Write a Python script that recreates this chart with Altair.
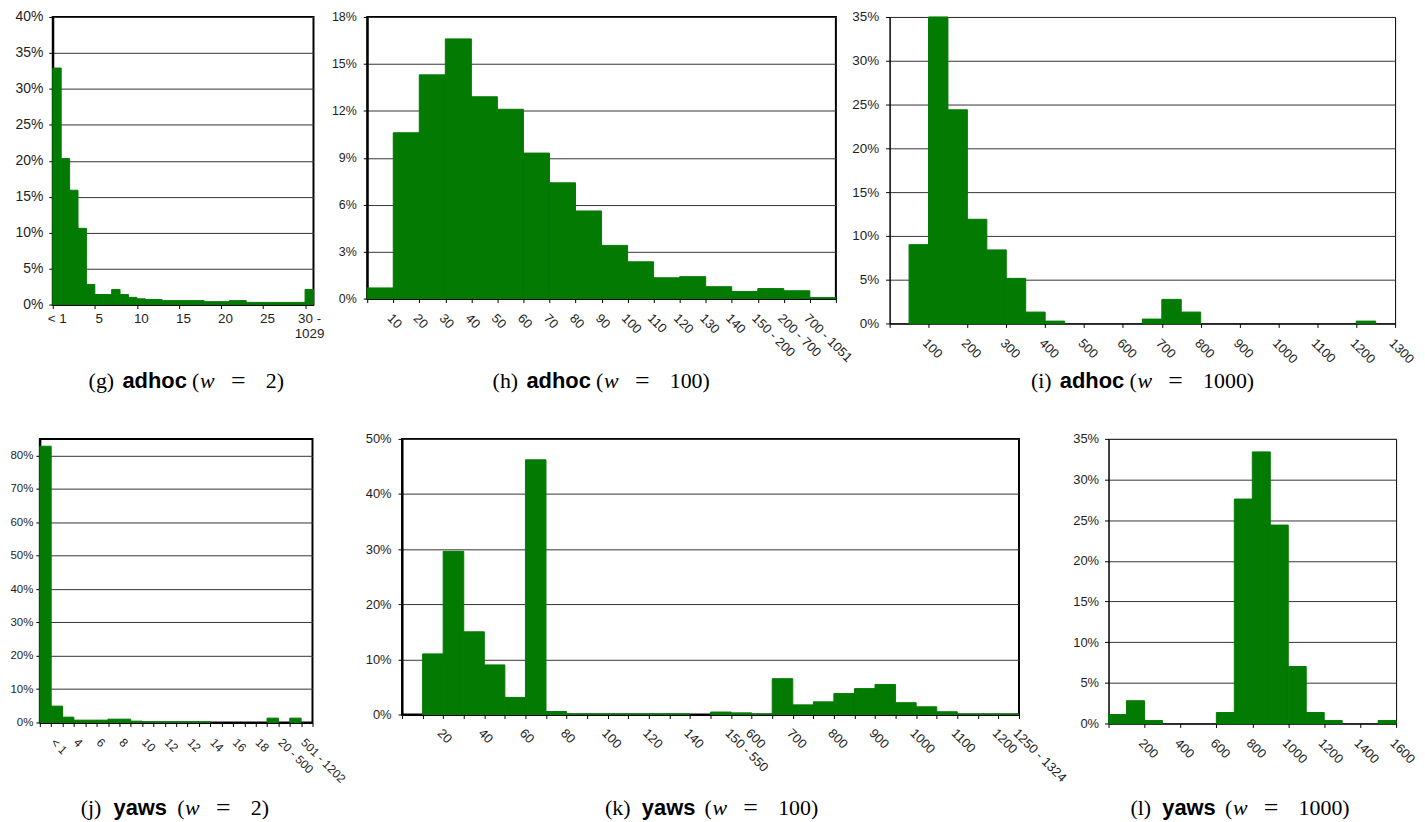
import json
import altair as alt
import pandas as pd

GREEN = "#037b03"
INK = "#1e1e1e"
SANS = "Liberation Sans"
SERIF = "Liberation Serif"

# ---------------- data ----------------
# (g) adhoc, w = 2 : 31 bins, tick labels every 5 bins
g_pct = [32.9, 20.3, 15.9, 10.6, 2.8, 1.4, 1.4, 2.1, 1.4, 1.0, 0.8, 0.7, 0.7,
         0.55, 0.55, 0.55, 0.55, 0.55, 0.4, 0.4, 0.4, 0.55, 0.55,
         0.3, 0.3, 0.3, 0.3, 0.3, 0.3, 0.3, 2.1]
g_tick_pos = [0, 5, 10, 15, 20, 25, 30]
g_tick_text = ["< 1", "5", "10", "15", "20", "25", "30 -|1029"]

# (h) adhoc, w = 100 : 18 bins
h_pct = [0.68, 10.6, 14.3, 16.6, 12.9, 12.1, 9.3, 7.4, 5.6, 3.4, 2.35, 1.33,
         1.4, 0.76, 0.45, 0.64, 0.5, 0.06]
h_tick_text = ["", "10", "20", "30", "40", "50", "60", "70", "80", "90", "100",
               "110", "120", "130", "140", "150 - 200", "200 - 700", "700 - 1051", ""]

# (i) adhoc, w = 1000 : bins of 50
i_bin_start = [50, 100, 150, 200, 250, 300, 350, 400, 650, 700, 750, 1200]
i_pct = [9.0, 35.0, 24.4, 11.9, 8.4, 5.15, 1.3, 0.27, 0.5, 2.75, 1.3, 0.27]
i_bin_width = 50

# (j) yaws, w = 2 : 24 bins
j_pct = [82.8, 4.9, 1.6, 0.7, 0.7, 0.7, 1.0, 1.0, 0.4, 0.2, 0.2, 0.2, 0.2,
         0.2, 0.2, 0, 0, 0, 0, 0, 1.3, 0, 1.3, 0]
j_tick_text = ["", "< 1", "", "4", "", "6", "", "8", "", "10", "", "12", "",
               "12", "", "14", "", "16", "", "18", "", "20 - 500", "", "501 - 1202", ""]

# (k) yaws, w = 100 : 30 bins
k_pct = [0, 11.0, 29.6, 15.0, 9.0, 3.1, 46.2, 0.55, 0.12, 0.12, 0.12, 0.12,
         0.12, 0.12, 0, 0.45, 0.3, 0.1, 6.5, 1.75, 2.3, 3.8, 4.7, 5.45, 2.15,
         1.4, 0.5, 0.1, 0.1, 0.1]
k_tick_text = ["", "", "20", "", "40", "", "60", "", "80", "", "100", "", "120",
               "", "140", "", "150 - 550", "600", "", "700", "", "800", "", "900",
               "", "1000", "", "1100", "", "1200", "1250 - 1324"]

# (l) yaws, w = 1000 : bins of 100
l_bin_start = [0, 100, 200, 600, 700, 800, 900, 1000, 1100, 1200, 1500]
l_pct = [1.1, 2.8, 0.37, 1.35, 27.6, 33.4, 24.4, 7.0, 1.35, 0.37, 0.37]
l_bin_width = 100

# captions
cap_tag = ["(g)", "(h)", "(i)", "(j)", "(k)", "(l)"]
cap_name = ["adhoc", "adhoc", "adhoc", "yaws", "yaws", "yaws"]
cap_w = ["2", "100", "1000", "2", "100", "1000"]

# ---------------- layout (pixels) ----------------
LEFTS = [52, 368, 893, 39, 403, 1113]
CAP_X = [(88, 122, 192), (494, 528, 598), (1035, 1064, 1134),
         (80, 113, 177), (607, 644, 707), (1135, 1167, 1230)]
CAP_Y = [366, 366, 366, 371, 371, 371]


def index_df(pct):
    df = pd.DataFrame({"pct": pct})
    df["x0"] = df.index
    df["x1"] = df.index + 1
    return df


def value_df(starts, pct, width):
    df = pd.DataFrame({"x0": starts, "pct": pct})
    df["x1"] = df["x0"] + width
    return df


def y_axis(values, fs, pad, thick):
    return alt.Axis(values=values, labelExpr="datum.value + '%'", title=None,
                    grid=True, gridColor="#333", gridWidth=1, tickSize=4,
                    tickColor="#000", labelPadding=pad, labelFont=SANS,
                    labelFontSize=fs, labelColor=INK, domainColor="#000",
                    domainWidth=2 if thick else 1, labelOverlap=False)


def x_axis(values, expr, fs, pad, rotated=True, dx=0, thick=True):
    kw = dict(values=values, labelExpr=expr, title=None, grid=False, tickSize=4,
              tickColor="#000", labelPadding=pad, labelFont=SANS, labelFontSize=fs,
              labelColor=INK, domainColor="#000", domainWidth=2 if thick else 1,
              labelOverlap=False, labelFlush=False, labelBound=False)
    if rotated:
        kw.update(labelAngle=45, labelAlign="left", labelBaseline="top")
    if dx:
        kw.update(labelOffset=dx)
    return alt.Axis(**kw)


def caption_layers(idx):
    left = LEFTS[idx]
    xt, xn, xp = CAP_X[idx]
    y = CAP_Y[idx]
    pieces = [
        (cap_tag[idx], xt, SERIF, "normal", "normal", 22),
        (cap_name[idx], xn, SANS, "bold", "normal", 22),
        ("(", xp, SERIF, "normal", "normal", 22),
        ("w", xp + 8, SERIF, "normal", "italic", 22),
        ("=", xp + 39, SERIF, "normal", "normal", 26),
        (cap_w[idx] + ")", xp + 74, SERIF, "normal", "normal", 22),
    ]
    layers = []
    for text, x, font, weight, style, fs in pieces:
        layers.append(
            alt.Chart(pd.DataFrame({"t": [text]})).mark_text(
                align="left", baseline="middle", font=font, fontSize=fs,
                fontWeight=weight, fontStyle=style, color="#000"
            ).encode(text="t:N", x=alt.value(x - left), y=alt.value(y))
        )
    return layers


def panel(idx, df, xdom, xaxis, ydom, yaxis, w, h, thick):
    bars = alt.Chart(df).transform_filter("datum.pct > 0").mark_rect(
        color=GREEN, stroke=GREEN, strokeWidth=1
    ).encode(
        x=alt.X("x0:Q", scale=alt.Scale(domain=xdom, nice=False, zero=False), axis=xaxis),
        x2="x1:Q",
        y=alt.Y("pct:Q", scale=alt.Scale(domain=ydom, nice=False), axis=yaxis),
        y2=alt.datum(0),
    )
    layers = [bars] + caption_layers(idx)
    return alt.layer(*layers).properties(
        width=w, height=h,
        view=alt.ViewBackground(stroke="#000", strokeWidth=2 if thick else 1, fill="white"),
    )


def spacer(w):
    # empty, invisible cell used only to offset the first panel of a row
    return alt.Chart(pd.DataFrame({"a": [0]})).mark_rect(opacity=0).encode(
        x=alt.value(0), x2=alt.value(1), y=alt.value(0), y2=alt.value(1)
    ).properties(width=w, height=1, view=alt.ViewBackground(stroke="transparent"))


def arr_expr(texts):
    return json.dumps(texts) + "[datum.value] || ''"


g = panel(0, index_df(g_pct), [0, 31],
          x_axis(g_tick_pos,
                 "split(" + json.dumps(dict(zip([str(p) for p in g_tick_pos], g_tick_text))) + "[''+datum.value], '|')",
                 13.5, 3, rotated=False, dx=4),
          [0, 40], y_axis(list(range(0, 45, 5)), 14, 6, True), 262, 289, True)

h = panel(1, index_df(h_pct), [0, 18],
          x_axis(list(range(19)), arr_expr(h_tick_text), 13, 9),
          [0, 18], y_axis(list(range(0, 21, 3)), 12.5, 7, True), 471, 283, True)

i = panel(2, value_df(i_bin_start, i_pct, i_bin_width), [0, 1300],
          x_axis(list(range(0, 1400, 100)), "datum.value == 0 ? '' : '' + datum.value", 13, 9, thick=False),
          [0, 35], y_axis(list(range(0, 40, 5)), 13.5, 7, False), 508, 308, False)

j = panel(3, index_df(j_pct), [0, 24],
          x_axis(list(range(25)), arr_expr(j_tick_text), 12, 10, dx=5),
          [0, 85], y_axis(list(range(0, 90, 10)), 11.5, 3, True), 274, 285, True)

k = panel(4, index_df(k_pct), [0, 30],
          x_axis(list(range(31)), arr_expr(k_tick_text), 13, 8),
          [0, 50], y_axis(list(range(0, 60, 10)), 13, 7, True), 620, 277, True)

l = panel(5, value_df(l_bin_start, l_pct, l_bin_width), [0, 1600],
          x_axis(list(range(0, 1800, 200)), "datum.value == 0 ? '' : '' + datum.value", 13, 9, thick=False),
          [0, 35], y_axis(list(range(0, 40, 5)), 13, 6, False), 289, 286, False)

row1 = alt.hconcat(spacer(50), g, h, i, spacing=54, bounds="flush")
row2 = alt.hconcat(spacer(1), j, k, l, spacing=90, bounds="flush")

chart = alt.vconcat(row1, row2, spacing=37).properties(
    padding={"left": -60, "top": -1, "right": 0, "bottom": 0},
    background="white",
).configure(font=SANS)

chart.save("out.html", embed_options={"renderer": "svg", "actions": False})
